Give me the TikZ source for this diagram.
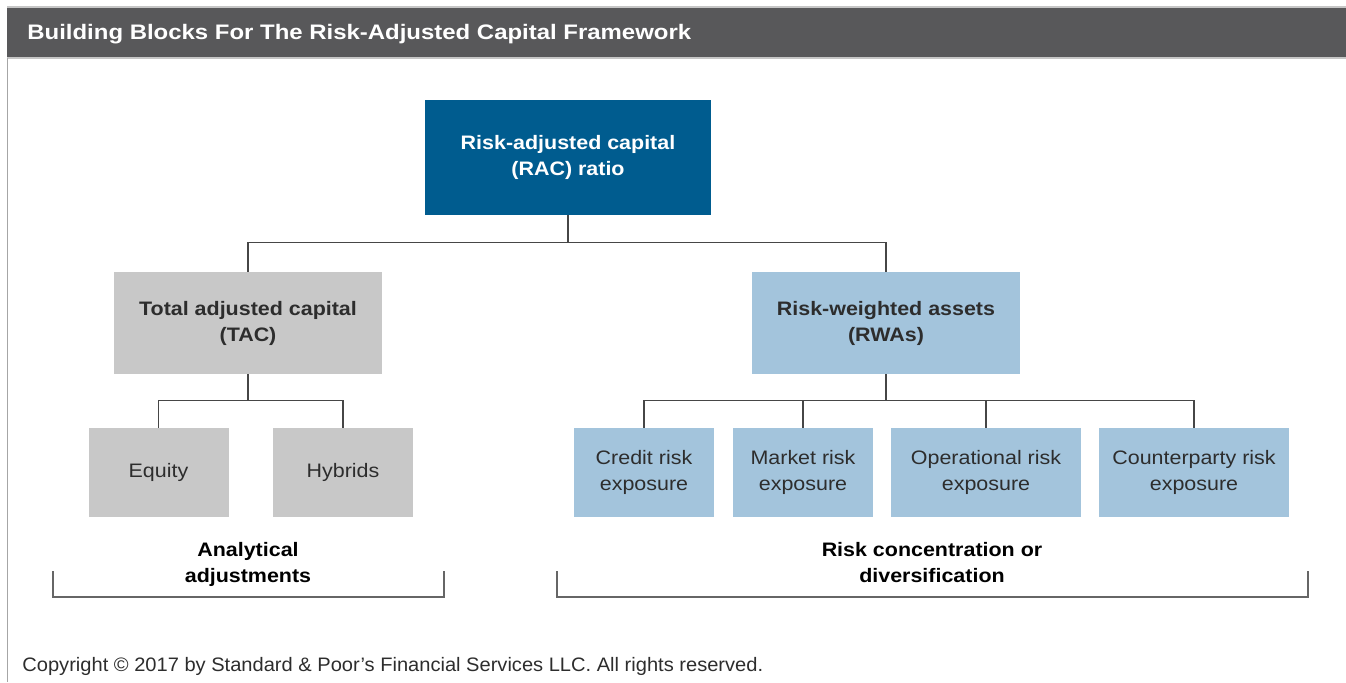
\documentclass[tikz,border=0pt]{standalone}
\usepackage{fontspec}
\setmainfont{Liberation Sans}[FakeStretch=1.1]
\newfontfamily\titlefont{Liberation Sans}[FakeStretch=1.14]
\newfontfamily\notefont{Liberation Sans}[FakeStretch=1.03]
\definecolor{racblue}{RGB}{0,92,143}
\definecolor{tacgray}{RGB}{200,200,200}
\definecolor{rwablue}{RGB}{163,196,220}
\definecolor{barfill}{RGB}{88,88,90}
\definecolor{linkgray}{RGB}{70,70,70}
\definecolor{boxtext}{RGB}{45,45,45}
\colorlet{leaffill}{tacgray}

\begin{document}
\begin{tikzpicture}[
  x=0.5pt, y=-0.5pt,
  every node/.style = {font=\fontsize{9.75}{13}\selectfont, align=center, inner sep=0pt},
  block/.style = {rectangle, minimum width=#1, text=boxtext},
  ratiobox/.style = {block=143pt, minimum height=57.5pt, fill=racblue, text=white, font=\fontsize{9.75}{13}\selectfont\bfseries},
  capbox/.style = {block=134pt, minimum height=51pt, fill=#1, font=\fontsize{9.75}{13}\selectfont\bfseries},
  leafbox/.style = {block=#1, minimum height=44.5pt, fill=leaffill},
  link/.style = {draw=linkgray, line width=0.6pt},
  bracket/.style = {draw=gray!80!black, line width=0.6pt}
]
  \useasboundingbox (0,0) rectangle (1346,682);
  % frame and title bar
  \fill[barfill] (7,7) rectangle (1346,58);
  \draw[gray!45, line width=0.6pt] (7,7) -- (1346,7);
  \draw[gray!45, line width=0.6pt] (7,58) -- (1346,58);
  \draw[gray!70, line width=0.8pt] (7.5,58) -- (7.5,682);
  \node[anchor=west, text=white, font=\titlefont\fontsize{10.5}{12}\selectfont\bfseries] (title) at (27,34)
    {Building Blocks For The Risk-Adjusted Capital Framework};

  % top level
  \node[ratiobox] (rac) at (568,157.5) {Risk-adjusted capital\\(RAC) ratio};
  \node[capbox=tacgray] (tac) at (248,323) {Total adjusted capital\\(TAC)};
  \node[capbox=rwablue] (rwa) at (886,323) {Risk-weighted assets\\(RWAs)};

  % leaves
  \colorlet{leaffill}{tacgray}
  \node[leafbox=70pt] (equity) at (158.5,472.5) {Equity};
  \node[leafbox=70pt] (hybrids) at (343,472.5) {Hybrids};
  \colorlet{leaffill}{rwablue}
  \node[leafbox=70pt] (credit) at (644,472.5) {Credit risk\\exposure};
  \node[leafbox=70pt] (market) at (803,472.5) {Market risk\\exposure};
  \node[leafbox=95pt] (oper) at (986,472.5) {Operational risk\\exposure};
  \node[leafbox=95pt] (cparty) at (1194,472.5) {Counterparty risk\\exposure};

  % connectors
  \draw[link] (rac.south) -- ++(0,27) coordinate (busrac);
  \draw[link] (tac.north) |- (busrac) -| (rwa.north);
  \draw[link] (tac.south) -- ++(0,26) coordinate (bustac);
  \draw[link] (equity.north) |- (bustac) -| (hybrids.north);
  \draw[link] (rwa.south) -- ++(0,26) coordinate (busrwa);
  \draw[link] (credit.north) |- (busrwa) -| (cparty.north);
  \draw[link] (market.north) -- (market.north |- busrwa);
  \draw[link] (oper.north) -- (oper.north |- busrwa);

  % brackets
  \node[font=\fontsize{9.75}{13}\selectfont\bfseries, text=black] (anadj) at (248,564) {Analytical\\adjustments};
  \node[font=\fontsize{9.75}{13}\selectfont\bfseries, text=black] (riskconc) at (932,563) {Risk concentration or\\diversification};
  \draw[bracket] (53,571) -- (53,597) -- (444,597) -- (444,571);
  \draw[bracket] (557,571) -- (557,597) -- (1308,597) -- (1308,571);

  \node[anchor=west, text=boxtext, font=\notefont\fontsize{9.75}{12}\selectfont] (copy) at (22,666)
    {Copyright © 2017 by Standard \& Poor’s Financial Services LLC. All rights reserved.};
\end{tikzpicture}
\end{document}
